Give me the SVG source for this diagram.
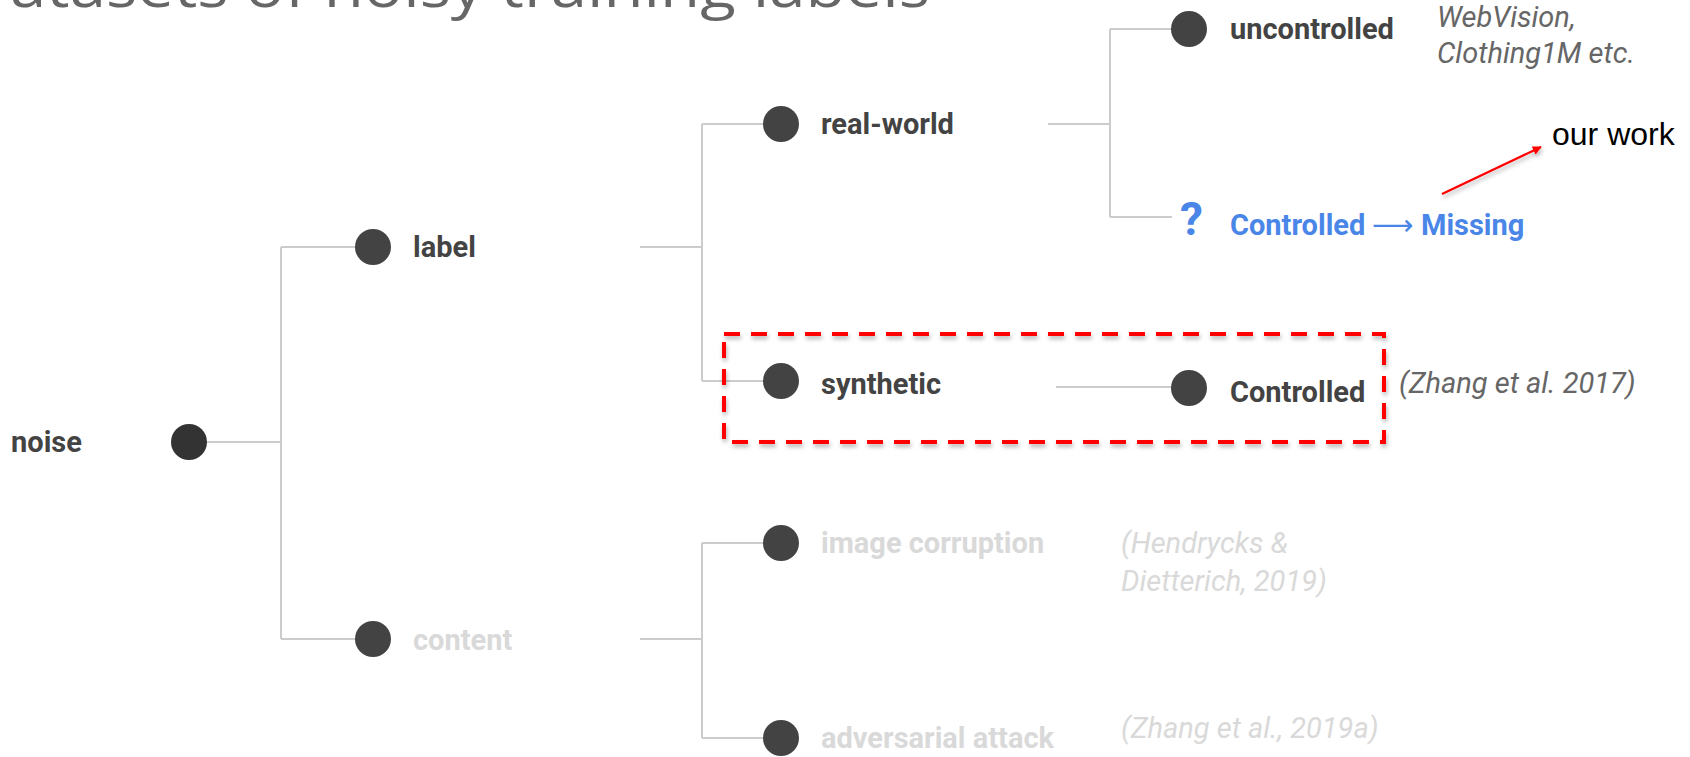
<svg xmlns="http://www.w3.org/2000/svg" width="1690" height="757" viewBox="0 0 1690 757">
<defs>
<style>
.lbl{font-family:Roboto,"Liberation Sans",sans-serif;font-weight:700;font-size:29px;fill:#434343}
.faded{fill:#d9d9d9}
.cite{font-family:Roboto,"Liberation Sans",sans-serif;font-style:italic;font-size:29px;fill:#666666}
.citef{fill:#d9d9d9}
.blue{font-family:Roboto,"Liberation Sans",sans-serif;font-weight:700;font-size:29px;fill:#4a86e8}
.dot{fill:#434343}
.conn{fill:none;stroke:#cccccc;stroke-width:2}
</style>
<marker id="ah" viewBox="0 0 10 10" refX="9" refY="5" markerWidth="11" markerHeight="9" orient="auto" markerUnits="userSpaceOnUse">
<path d="M0,0 L10,5 L0,10 z" fill="#ff0000"/>
</marker>
<filter id="sh" x="-5%" y="-20%" width="110%" height="140%">
<feDropShadow dx="1" dy="3" stdDeviation="2" flood-color="#000000" flood-opacity="0.3"/>
</filter>
</defs>
<rect width="1690" height="757" fill="#ffffff"/>
<text x="10" y="7" font-family="'Open Sans','Liberation Sans',sans-serif" font-size="56" fill="#666666" textLength="920" lengthAdjust="spacingAndGlyphs">atasets of noisy training labels</text>

<g id="connectors">
<path class="conn" d="M190,442 H281 M281,247 V639 M281,247 H373 M281,639 H373"/>
<path class="conn" d="M640,247 H702 M702,124 V381 M702,124 H781 M702,381 H781"/>
<path class="conn" d="M640,639 H702 M702,543 V738 M702,543 H781 M702,738 H781"/>
<path class="conn" d="M1048,124 H1110 M1110,29 V217 M1110,29 H1189 M1110,217 H1172"/>
<path class="conn" d="M1056,387 H1189"/>
<path d="M1442,194 L1541,147" stroke="#ff0000" stroke-width="2.2" fill="none" marker-end="url(#ah)" filter="url(#sh)"/>
</g>

<g id="node-noise"><circle cx="189" cy="442" r="18" fill="#333333"/><text class="lbl" x="11" y="452">noise</text></g>
<g id="node-label"><circle class="dot" cx="373" cy="247" r="18"/><text class="lbl" x="413" y="257">label</text></g>
<g id="node-content"><circle class="dot" cx="373" cy="639" r="18"/><text class="lbl faded" x="413" y="650">content</text></g>
<g id="node-realworld"><circle class="dot" cx="781" cy="124" r="18"/><text class="lbl" x="821" y="134">real-world</text></g>
<g id="node-synthetic"><circle class="dot" cx="781" cy="381" r="18"/><text class="lbl" x="821" y="394">synthetic</text></g>
<g id="node-imagecorruption"><circle class="dot" cx="781" cy="543" r="18"/><text class="lbl faded" x="821" y="553">image corruption</text>
<text class="cite citef" x="1121" y="553">(Hendrycks &amp;</text><text class="cite citef" x="1121" y="591">Dietterich, 2019)</text></g>
<g id="node-adversarial"><circle class="dot" cx="781" cy="738" r="18"/><text class="lbl faded" x="821" y="748">adversarial attack</text>
<text class="cite citef" x="1121" y="738">(Zhang et al., 2019a)</text></g>
<g id="node-uncontrolled"><circle class="dot" cx="1189" cy="29" r="18"/><text class="lbl" x="1230" y="39">uncontrolled</text>
<text class="cite" x="1437" y="27">WebVision,</text><text class="cite" x="1437" y="63">Clothing1M etc.</text></g>
<g id="node-missing"><text class="blue" x="1180" y="235" style="font-size:46px">?</text>
<text class="blue" y="235"><tspan x="1230">Controlled</tspan><tspan x="1372" font-weight="400" font-family="'DejaVu Sans',sans-serif">⟶</tspan><tspan x="1421">Missing</tspan></text></g>
<g id="node-controlled"><circle class="dot" cx="1189" cy="388" r="18"/><text class="lbl" x="1230" y="402">Controlled</text>
<text class="cite" x="1399" y="393">(Zhang et al. 2017)</text></g>
<g id="highlight"><rect x="724" y="334" width="660" height="108" fill="none" stroke="#ff0000" stroke-width="4" stroke-dasharray="16 11" filter="url(#sh)"/></g>
<g id="note"><text x="1552" y="145" font-family="'Liberation Sans',Arial,sans-serif" font-size="32" fill="#000000">our work</text></g>
</svg>
